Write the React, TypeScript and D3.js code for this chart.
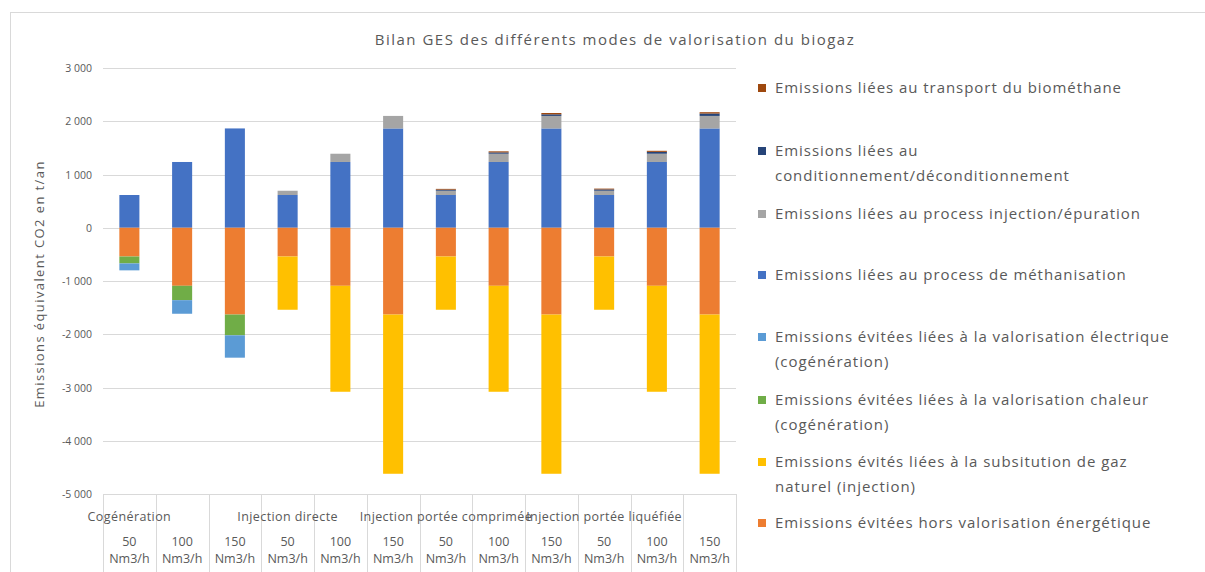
import React from "react";
import * as d3 from "d3";

const groups = ["Cogénération", "Injection directe", "Injection portée comprimée", "Injection portée liquéfiée"];
const capacities = ["50", "100", "150"];
const categories = groups.flatMap((g) => capacities.map((c) => `${g} ${c}`));

const methanisation = [615, 1235, 1865, 615, 1235, 1865, 615, 1235, 1865, 615, 1235, 1865];
const epuration = [0, 0, 0, 80, 155, 235, 80, 155, 235, 80, 155, 235];
const conditionnement = [0, 0, 0, 0, 0, 0, 20, 25, 30, 25, 35, 45];
const transport = [0, 0, 0, 0, 0, 0, 15, 20, 25, 15, 20, 25];
const horsValorisation = [-540, -1090, -1630, -540, -1090, -1630, -540, -1090, -1630, -540, -1090, -1630];
const substitution = [0, 0, 0, -1000, -1990, -2990, -1000, -1990, -2990, -1000, -1990, -2990];
const chaleur = [-130, -270, -390, 0, 0, 0, 0, 0, 0, 0, 0, 0];
const electrique = [-130, -255, -420, 0, 0, 0, 0, 0, 0, 0, 0, 0];

const yTicks = [3000, 2000, 1000, 0, -1000, -2000, -3000, -4000, -5000];

const seriesKeys = ["methanisation", "epuration", "conditionnement", "transport", "hors", "substitution", "chaleur", "electrique"];
const seriesValues: Record<string, number[]> = {
  methanisation, epuration, conditionnement, transport,
  hors: horsValorisation, substitution, chaleur, electrique,
};
const seriesColors: Record<string, string> = {
  methanisation: "#4472C4",
  epuration: "#A5A5A5",
  conditionnement: "#264478",
  transport: "#9E480E",
  hors: "#ED7D31",
  substitution: "#FFC000",
  chaleur: "#70AD47",
  electrique: "#5B9BD5",
};
const legendItems: { key: string; lines: string[] }[] = [
  { key: "transport", lines: ["Emissions liées au transport du biométhane"] },
  { key: "conditionnement", lines: ["Emissions liées au", "conditionnement/déconditionnement"] },
  { key: "epuration", lines: ["Emissions liées au process injection/épuration"] },
  { key: "methanisation", lines: ["Emissions liées au process de méthanisation"] },
  { key: "electrique", lines: ["Emissions évitées liées à la valorisation électrique", "(cogénération)"] },
  { key: "chaleur", lines: ["Emissions évitées liées à la valorisation chaleur", "(cogénération)"] },
  { key: "substitution", lines: ["Emissions évités liées à la subsitution de gaz", "naturel (injection)"] },
  { key: "hors", lines: ["Emissions évitées hors valorisation énergétique"] },
];
const legendY = [88, 151, 214, 275, 337, 400, 462, 523];

const FONT = "'Open Sans', 'Noto Sans', sans-serif";
const TEXT = "#595959";

export default function App() {
  const W = 1205, H = 572;
  const x0 = 103, x1 = 736, yTop = 68, yBot = 494;
  const x = d3.scaleBand<string>().domain(categories).range([x0, x1]).paddingInner(0.62).paddingOuter(0.31);
  const y = d3.scaleLinear().domain([-5000, 3000]).range([yBot, yTop]);

  const table = categories.map((c, i) => {
    const row: any = { cat: c };
    seriesKeys.forEach((k) => (row[k] = seriesValues[k][i]));
    return row;
  });
  const stacked = d3.stack<any>().keys(seriesKeys).offset(d3.stackOffsetDiverging)(table);
  const step = x.step();
  const boundaries = d3.range(categories.length + 1).map((k) => x0 + k * step);
  const fmt = (t: number) => d3.format(",")(t).replace(/,/g, " ").replace("\u2212", "-");

  return (
    <svg width={W} height={H} style={{ position: "absolute", left: 0, top: 0, background: "#fff" }} fontFamily={FONT}>
      <rect x={0} y={0} width={W} height={H} fill="#fff" />
      <rect x={10.5} y={12.5} width={1200} height={600} fill="none" stroke="#D9D9D9" strokeWidth={1} />
      <text x={615} y={45} textAnchor="middle" fontSize={15} letterSpacing={1.5} fill={TEXT}>
        Bilan GES des différents modes de valorisation du biogaz
      </text>
      {yTicks.map((t) => (
        <g key={t}>
          <line x1={x0} x2={x1} y1={Math.round(y(t)) + 0.5} y2={Math.round(y(t)) + 0.5} stroke="#D9D9D9" strokeWidth={1} />
          <text x={92} y={y(t) + 4} textAnchor="end" fontSize={10.5} fill={TEXT}>
            {fmt(t)}
          </text>
        </g>
      ))}
      <text transform={`translate(44,284) rotate(-90)`} textAnchor="middle" fontSize={13} letterSpacing={1.4} fill={TEXT}>
        Emissions équivalent CO2 en t/an
      </text>
      {stacked.map((s) => (
        <g key={s.key} fill={seriesColors[s.key]}>
          {s.map((d, i) => {
            const top = y(Math.max(d[0], d[1]));
            const bot = y(Math.min(d[0], d[1]));
            if (bot - top <= 0) return null;
            return <rect key={i} x={x(categories[i])} y={top} width={x.bandwidth()} height={bot - top} />;
          })}
        </g>
      ))}
      {boundaries.map((bx, k) => (
        <line key={k} x1={Math.round(bx) + 0.5} x2={Math.round(bx) + 0.5} y1={yBot} y2={H} stroke="#D9D9D9" strokeWidth={1} />
      ))}
      {groups.map((g, gi) => (
        <text key={g} x={(x(categories[gi * 3]) ?? 0) + x.bandwidth() / 2} y={521} textAnchor="middle" fontSize={12.5} letterSpacing={0.4} fill={TEXT}>
          {g}
        </text>
      ))}
      {categories.map((c, i) => {
        const cx = (x(c) ?? 0) + x.bandwidth() / 2;
        return (
          <g key={c}>
            <text x={cx} y={546} textAnchor="middle" fontSize={12.5} fill={TEXT}>{capacities[i % 3]}</text>
            <text x={cx} y={563} textAnchor="middle" fontSize={12.5} fill={TEXT}>Nm3/h</text>
          </g>
        );
      })}
      {legendItems.map((it, li) => (
        <g key={it.key}>
          <rect x={758} y={legendY[li] - 4} width={8} height={8} fill={seriesColors[it.key]} />
          {it.lines.map((ln, j) => (
            <text key={j} x={775} y={legendY[li] + 5 + j * 25} fontSize={15} letterSpacing={0.95} fill={TEXT}>{ln}</text>
          ))}
        </g>
      ))}
    </svg>
  );
}
